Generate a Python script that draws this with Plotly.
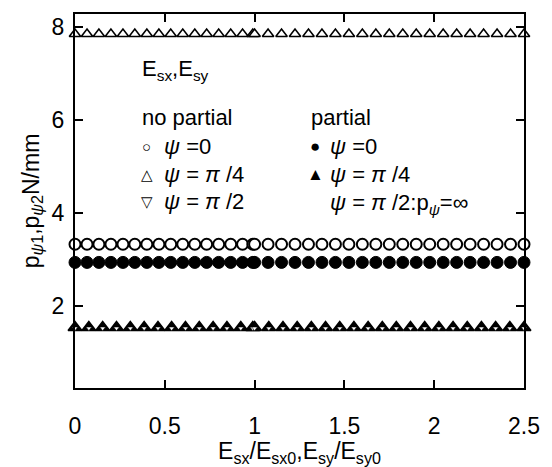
import plotly.graph_objects as go

# ---- data ----
# x positions, segment 0..1 and segment 1..2.5
x_lo = [0.0, 0.067, 0.133, 0.2, 0.267, 0.333, 0.4, 0.467, 0.533, 0.6, 0.667,
        0.733, 0.8, 0.867, 0.933, 0.99]
x_hi = [1.0, 1.075, 1.15, 1.225, 1.3, 1.375, 1.45, 1.525, 1.6, 1.675, 1.75,
        1.825, 1.9, 1.975, 2.05, 2.125, 2.2, 2.275, 2.35, 2.425, 2.5]
x_b_lo = [0.0, 0.077, 0.154, 0.231, 0.308, 0.385, 0.462, 0.538, 0.615, 0.692,
          0.769, 0.846, 0.923, 0.99]
x_b_hi = [1.0, 1.079, 1.158, 1.237, 1.316, 1.395, 1.474, 1.553, 1.632, 1.711,
          1.789, 1.868, 1.947, 2.026, 2.105, 2.184, 2.263, 2.342, 2.421, 2.5]

np_psi0 = 3.32      # no partial, psi=0
np_psi4 = 7.84      # no partial, psi=pi/4
np_psi2 = 1.515     # no partial, psi=pi/2
p_psi0 = 2.93       # partial, psi=0
p_psi4 = 1.53       # partial, psi=pi/4

x_top = x_lo + x_hi
x_bot = x_b_lo + x_b_hi
y_np0 = [np_psi0] * len(x_top)
y_np4 = [np_psi4] * len(x_top)
y_p0 = [p_psi0] * len(x_top)
y_p4 = [p_psi4] * len(x_bot)
y_np2 = [np_psi2] * len(x_bot)

x_ticks = [0, 0.5, 1, 1.5, 2, 2.5]
x_ticklabels = ["0", "0.5", "1", "1.5", "2", "2.5"]
y_ticks = [2, 4, 6, 8]
y_ticklabels = ["2", "4", "6", "8"]

FONT = "Liberation Sans, Arial, sans-serif"

fig = go.Figure()

def add(x, y, symbol, size, fill, lw=1.5):
    fig.add_trace(go.Scatter(
        x=x, y=y, mode="markers", cliponaxis=False, showlegend=False,
        marker=dict(symbol=symbol, size=size, color=fill,
                    line=dict(color="black", width=lw))))

add(x_top, y_np4, "triangle-up", 10, "white", 1.6)
add(x_top, y_np0, "circle", 11, "white", 2)
add(x_top, y_p0, "circle", 12, "black", 1)
add(x_bot, y_p4, "triangle-up", 12, "black", 1.5)
add(x_bot, y_np2, "triangle-down", 5, "white", 0.6)

W, H = 552, 467
L, R, T, B = 75, 525, 14, 402

def px(x):
    return (x - L) / (R - L)

def py(y):
    return (B - y) / (B - T)

ann = []
def text(x, y, s, size=22, xanchor="left"):
    ann.append(dict(x=px(x), y=py(y), xref="paper", yref="paper", text=s,
                    showarrow=False, xanchor=xanchor, yanchor="middle",
                    font=dict(family=FONT, size=size, color="black")))

text(140, 72, "E<sub>sx</sub>,E<sub>sy</sub>")
text(140, 121, "no partial")
text(310, 121, "partial")
text(147, 151, "○", 15, "center")
text(162, 151, "<i>ψ</i> =0")
text(147, 180, "△", 15, "center")
text(162, 180, "<i>ψ</i> = <i>π</i> /4")
text(147, 209, "▽", 15, "center")
text(162, 209, "<i>ψ</i> = <i>π</i> /2")
text(316, 151, "●", 17, "center")
text(329, 151, "<i>ψ</i> =0")
text(316, 180, "▲", 17, "center")
text(329, 180, "<i>ψ</i> = <i>π</i> /4")
text(329, 211, "<i>ψ</i> = <i>π</i> /2:p<sub><i>ψ</i></sub>=∞")

axis_common = dict(showline=True, linecolor="black", linewidth=2, mirror="ticks",
                   ticks="inside", ticklen=8, tickwidth=1.5, tickcolor="black",
                   showgrid=False, zeroline=False,
                   tickfont=dict(family=FONT, size=23, color="black"))

fig.update_layout(
    width=W, height=H,
    margin=dict(l=L, r=W - R, t=T, b=H - B),
    paper_bgcolor="white", plot_bgcolor="white",
    annotations=ann,
    xaxis=dict(range=[0, 2.5], tickvals=x_ticks, ticktext=x_ticklabels,
               ticklabelstandoff=16,
               title=dict(text="E<sub>sx</sub>/E<sub>sx0</sub>,E<sub>sy</sub>/E<sub>sy0</sub>",
                          font=dict(family=FONT, size=23, color="black"), standoff=0),
               **axis_common),
    yaxis=dict(range=[0.23, 8.27], tickvals=y_ticks, ticktext=y_ticklabels,
               ticklabelstandoff=4,
               title=dict(text="p<sub><i>ψ</i>1</sub>,p<sub><i>ψ</i>2</sub>N/mm",
                          font=dict(family=FONT, size=23, color="black"), standoff=6),
               **axis_common),
)

fig.write_html("out.html")
